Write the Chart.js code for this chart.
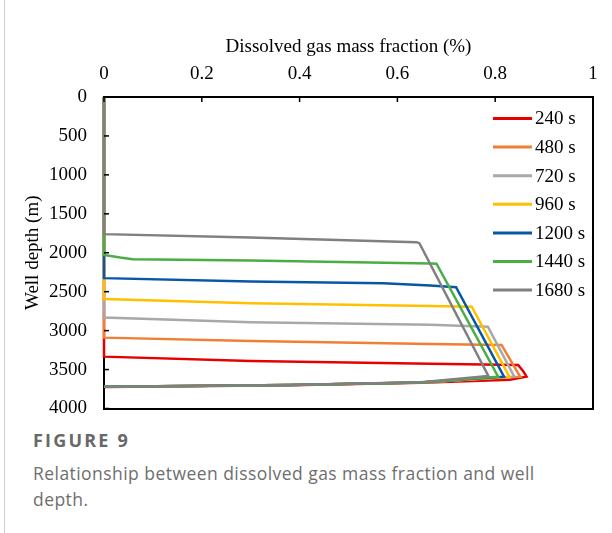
<!DOCTYPE html>
<html lang="en">
<head>
<meta charset="UTF-8">
<title>Figure 9</title>
<script src="https://cdn.jsdelivr.net/npm/chart.js"></script>
<style>
  body { margin: 0; background: #fff; width: 612px; height: 533px; position: relative; overflow: hidden; }
  #edge { position: absolute; left: 4px; top: 0; width: 1px; height: 533px; background: #cfcfcf; }
  #myChart { position: absolute; left: 0; top: 0; }
  #rightEdge { position: absolute; left: 592px; top: 96px; width: 2px; height: 313px; background: #000; }
  .cap { position: absolute; left: 33px; font-family: "Open Sans", "Noto Sans", sans-serif; color: #6e6e6e; }
  #fig { top: 428px; font-size: 18px; line-height: 24px; font-weight: bold; letter-spacing: 2.2px; color: #686868; }
  #txt { top: 460px; font-size: 17.5px; line-height: 26px; letter-spacing: 0.45px; width: 560px; }
</style>
</head>
<body>
<div id="edge"></div>
<canvas id="myChart" width="612" height="424"></canvas>
<div id="rightEdge"></div>
<div class="cap" id="fig">FIGURE 9</div>
<div class="cap" id="txt">Relationship between dissolved gas mass fraction and well<br>depth.</div>
<script>
// series labels and colours
var labels = ['240 s', '480 s', '720 s', '960 s', '1200 s', '1440 s', '1680 s'];
var colors = ['#e60000', '#f07f33', '#a8a8a8', '#ffc000', '#0757a6', '#4aae45', '#808080'];

// dissolved gas mass fraction (%) and well depth (m) for each time
var frac240  = [0, 0, 0.3, 0.667, 0.847, 0.858, 0.864, 0.83, 0.648, 0.38, 0];
var depth240 = [0, 3334, 3389, 3424, 3441, 3527, 3591, 3630, 3668, 3700, 3724];
var frac480  = [0, 0, 0.3, 0.667, 0.813, 0.851, 0.648, 0.38, 0];
var depth480 = [0, 3090, 3132, 3171, 3184, 3591, 3666, 3699, 3722];
var frac720  = [0, 0, 0.3, 0.667, 0.785, 0.839, 0.648, 0.38, 0];
var depth720 = [0, 2833, 2892, 2926, 2949, 3591, 3665, 3698, 3722];
var frac960  = [0, 0, 0.3, 0.667, 0.752, 0.829, 0.648, 0.38, 0];
var depth960 = [0, 2593, 2648, 2683, 2692, 3591, 3665, 3698, 3722];
var frac1200  = [0, 0, 0.3, 0.571, 0.667, 0.72, 0.818, 0.648, 0.38, 0];
var depth1200 = [0, 2326, 2370, 2391, 2420, 2443, 3591, 3665, 3698, 3722];
var frac1440  = [0, 0, 0.033, 0.059, 0.3, 0.667, 0.68, 0.806, 0.648, 0.38, 0];
var depth1440 = [0, 2029, 2062, 2082, 2100, 2137, 2140, 3591, 3665, 3698, 3722];
var frac1680  = [0, 0, 0.299, 0.639, 0.645, 0.786, 0.648, 0.38, 0];
var depth1680 = [0, 1761, 1805, 1864, 1877, 3582, 3664, 3698, 3722];

var xTicks = [0, 0.2, 0.4, 0.6, 0.8, 1];
var yTicks = [0, 500, 1000, 1500, 2000, 2500, 3000, 3500, 4000];

var fracs = [frac240, frac480, frac720, frac960, frac1200, frac1440, frac1680];
var depths = [depth240, depth480, depth720, depth960, depth1200, depth1440, depth1680];

var datasets = labels.map(function (lab, i) {
  return {
    label: lab,
    data: fracs[i].map(function (f, j) { return { x: f, y: depths[i][j] }; }),
    borderColor: colors[i],
    backgroundColor: colors[i],
    borderWidth: 2.5,
    pointRadius: 0,
    showLine: true,
    fill: false,
    tension: 0,
    clip: false,
    order: labels.length - i
  };
});

var serif = 'Liberation Serif';

function noPad(s) { s.paddingTop = 0; s.paddingBottom = 0; s.paddingLeft = 0; s.paddingRight = 0; }

// inward ticks, right edge of the frame and the legend
var framePlugin = {
  id: 'frame',
  afterDraw: function (chart) {
    var c = chart.ctx;
    var a = chart.chartArea;
    var xs = chart.scales.x, ys = chart.scales.y;
    c.save();
    c.fillStyle = '#000';
    c.fillRect(a.right - 1, a.top - 1, 2, a.bottom - a.top + 2);
    xTicks.forEach(function (t) {
      var px = xs.getPixelForValue(t);
      c.fillRect(px - 0.75, a.top, 1.5, 5);
    });
    yTicks.forEach(function (t) {
      var py = ys.getPixelForValue(t);
      c.fillRect(a.left, py - 0.75, 5, 1.5);
    });
    c.font = '19px "' + serif + '"';
    c.textBaseline = 'middle';
    labels.forEach(function (lab, i) {
      var y = 118.5 + i * 28.6;
      c.strokeStyle = colors[i];
      c.lineWidth = 3;
      c.beginPath(); c.moveTo(493, y); c.lineTo(532, y); c.stroke();
      c.fillText(lab, 535, y + 1);
    });
    c.restore();
  }
};

var frameAxis = {
  display: true,
  ticks: { display: false },
  grid: { display: false, drawTicks: false },
  border: { display: true, color: '#000', width: 2 },
  title: { display: false }
};

new Chart(document.getElementById('myChart'), {
  type: 'scatter',
  data: { datasets: datasets },
  options: {
    responsive: false,
    animation: false,
    layout: { padding: { left: 0, right: 19, top: 0, bottom: 15.5 } },
    plugins: { legend: { display: false }, tooltip: { enabled: false } },
    scales: {
      x: {
        type: 'linear',
        position: 'top',
        min: 0, max: 1,
        afterFit: function (s) { s.height = 97; noPad(s); },
        afterBuildTicks: function (s) { s.ticks = xTicks.map(function (v) { return { value: v }; }); },
        grid: { display: false, drawTicks: false },
        border: { display: true, color: '#000', width: 2 },
        ticks: { padding: 12, color: '#000', font: { family: serif, size: 19 }, callback: function (v) { return String(v); } },
        title: { display: true, text: 'Dissolved gas mass fraction (%)', color: '#000', font: { family: serif, size: 19 }, padding: { top: 36, bottom: 0 } }
      },
      y: {
        type: 'linear',
        reverse: true,
        min: 0, max: 4000,
        afterFit: function (s) { s.width = 104; noPad(s); },
        afterBuildTicks: function (s) { s.ticks = yTicks.map(function (v) { return { value: v }; }); },
        grid: { display: false, drawTicks: false },
        border: { display: true, color: '#000', width: 2 },
        ticks: { padding: 17, color: '#000', font: { family: serif, size: 19 }, callback: function (v) { return String(v); } },
        title: { display: true, text: 'Well depth (m)', color: '#000', font: { family: serif, size: 19 }, padding: { top: 22, bottom: 0 } }
      },
      xb: Object.assign({ type: 'linear', position: 'bottom', min: 0, max: 1, afterFit: function (s) { s.height = 0; noPad(s); } }, frameAxis),
      yr: Object.assign({ type: 'linear', position: 'right', min: 0, max: 1, afterFit: function (s) { s.width = 0; noPad(s); } }, frameAxis)
    }
  },
  plugins: [framePlugin]
});
</script>
</body>
</html>
